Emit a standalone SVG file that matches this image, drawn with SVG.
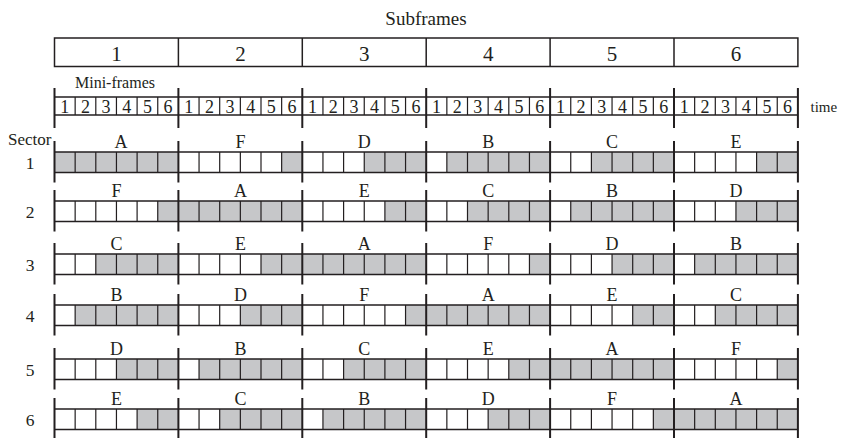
<svg xmlns="http://www.w3.org/2000/svg" xmlns:xlink="http://www.w3.org/1999/xlink" width="841" height="438" viewBox="0 0 841 438">
<style>
text{font-family:"Liberation Serif","Times New Roman",serif;fill:#231f20}
.sf{font-size:21px;text-anchor:middle}
.mf{font-size:18px;text-anchor:middle}
.lt{font-size:18px;text-anchor:middle}
.sn{font-size:17.5px;text-anchor:middle}
.hl{stroke:#231f20;stroke-width:1.5;fill:none}
.tk{stroke:#231f20;stroke-width:2;fill:none}
.dv{stroke:#231f20;stroke-width:1.2;fill:none}
.g{fill:#c6c7c9}
</style>
<defs>
<path id="div" class="dv" d="M20.65 0V20.5M41.3 0V20.5M61.95 0V20.5M82.6 0V20.5M103.25 0V20.5"/>
<path id="divm" class="dv" d="M20.65 0V18M41.3 0V18M61.95 0V18M82.6 0V18M103.25 0V18"/>
<path id="ticks" class="tk" d="M54.5 -11V30.5M178.4 -11V30.5M302.3 -11V30.5M426.2 -11V30.5M550.1 -11V30.5M674 -11V30.5M797.9 -11V30.5"/>
<path id="rowlines" class="hl" d="M54.5 0H797.9M54.5 20.5H797.9"/>
</defs>

<g id="subframes">
<text x="426" y="24.5" style="font-size:19px;text-anchor:middle">Subframes</text>
<rect x="54.5" y="38" width="743.4" height="28.5" class="hl"/>
<path class="hl" d="M178.4 38V66.5M302.3 38V66.5M426.2 38V66.5M550.1 38V66.5M674 38V66.5"/>
<text class="sf" x="116.5" y="61">1</text>
<text class="sf" x="240.4" y="61">2</text>
<text class="sf" x="364.3" y="61">3</text>
<text class="sf" x="488.2" y="61">4</text>
<text class="sf" x="612.1" y="61">5</text>
<text class="sf" x="736" y="61">6</text>
</g>

<g id="miniframes">
<text x="115" y="88" style="font-size:16px;text-anchor:middle">Mini-frames</text>
<path class="hl" d="M54.5 97H797.9M54.5 115H797.9"/>
<path class="tk" d="M54.5 88V128M178.4 88V128M302.3 88V128M426.2 88V128M550.1 88V128M674 88V128M797.9 88V128"/>
<g transform="translate(0,97)">
<use xlink:href="#divm" x="54.5"/><use xlink:href="#divm" x="178.4"/><use xlink:href="#divm" x="302.3"/><use xlink:href="#divm" x="426.2"/><use xlink:href="#divm" x="550.1"/><use xlink:href="#divm" x="674"/>
</g>
<text class="mf" x="64.8 85.5 106.1 126.8 147.4 168.1" y="113">123456</text>
<text class="mf" x="188.7 209.4 230 250.7 271.3 292" y="113">123456</text>
<text class="mf" x="312.6 333.3 353.9 374.6 395.2 415.9" y="113">123456</text>
<text class="mf" x="436.5 457.2 477.8 498.5 519.1 539.8" y="113">123456</text>
<text class="mf" x="560.4 581.1 601.7 622.4 643 663.7" y="113">123456</text>
<text class="mf" x="684.3 705 725.6 746.3 766.9 787.6" y="113">123456</text>
<text x="810.5" y="111.7" style="font-size:15px">time</text>
</g>

<text x="8" y="145" style="font-size:17px">Sector</text>

<g id="sector1" transform="translate(0,152)">
<rect class="g" x="54.5" y="0" width="123.9" height="20.5"/>
<rect class="g" x="281.65" y="0" width="20.65" height="20.5"/>
<rect class="g" x="364.25" y="0" width="61.95" height="20.5"/>
<rect class="g" x="446.85" y="0" width="103.25" height="20.5"/>
<rect class="g" x="591.4" y="0" width="82.6" height="20.5"/>
<rect class="g" x="756.6" y="0" width="41.3" height="20.5"/>
<use xlink:href="#div" x="54.5"/><use xlink:href="#div" x="178.4"/><use xlink:href="#div" x="302.3"/><use xlink:href="#div" x="426.2"/><use xlink:href="#div" x="550.1"/><use xlink:href="#div" x="674"/>
<use xlink:href="#rowlines"/><use xlink:href="#ticks"/>
<text class="sn" x="30" y="17">1</text>
<text class="lt" x="121" y="-4">A</text><text class="lt" x="240.4" y="-4">F</text><text class="lt" x="364.3" y="-4">D</text><text class="lt" x="488.2" y="-4">B</text><text class="lt" x="612.1" y="-4">C</text><text class="lt" x="736" y="-4">E</text>
</g>

<g id="sector2" transform="translate(0,201)">
<rect class="g" x="157.75" y="0" width="20.65" height="20.5"/>
<rect class="g" x="178.4" y="0" width="123.9" height="20.5"/>
<rect class="g" x="384.9" y="0" width="41.3" height="20.5"/>
<rect class="g" x="467.5" y="0" width="82.6" height="20.5"/>
<rect class="g" x="570.75" y="0" width="103.25" height="20.5"/>
<rect class="g" x="735.95" y="0" width="61.95" height="20.5"/>
<use xlink:href="#div" x="54.5"/><use xlink:href="#div" x="178.4"/><use xlink:href="#div" x="302.3"/><use xlink:href="#div" x="426.2"/><use xlink:href="#div" x="550.1"/><use xlink:href="#div" x="674"/>
<use xlink:href="#rowlines"/><use xlink:href="#ticks"/>
<text class="sn" x="30" y="17">2</text>
<text class="lt" x="116.5" y="-4">F</text><text class="lt" x="240.4" y="-4">A</text><text class="lt" x="364.3" y="-4">E</text><text class="lt" x="488.2" y="-4">C</text><text class="lt" x="612.1" y="-4">B</text><text class="lt" x="736" y="-4">D</text>
</g>

<g id="sector3" transform="translate(0,254)">
<rect class="g" x="95.8" y="0" width="82.6" height="20.5"/>
<rect class="g" x="261" y="0" width="41.3" height="20.5"/>
<rect class="g" x="302.3" y="0" width="123.9" height="20.5"/>
<rect class="g" x="529.45" y="0" width="20.65" height="20.5"/>
<rect class="g" x="612.05" y="0" width="61.95" height="20.5"/>
<rect class="g" x="694.65" y="0" width="103.25" height="20.5"/>
<use xlink:href="#div" x="54.5"/><use xlink:href="#div" x="178.4"/><use xlink:href="#div" x="302.3"/><use xlink:href="#div" x="426.2"/><use xlink:href="#div" x="550.1"/><use xlink:href="#div" x="674"/>
<use xlink:href="#rowlines"/><use xlink:href="#ticks"/>
<text class="sn" x="30" y="17">3</text>
<text class="lt" x="116.5" y="-4">C</text><text class="lt" x="240.4" y="-4">E</text><text class="lt" x="364.3" y="-4">A</text><text class="lt" x="488.2" y="-4">F</text><text class="lt" x="612.1" y="-4">D</text><text class="lt" x="736" y="-4">B</text>
</g>

<g id="sector4" transform="translate(0,305)">
<rect class="g" x="75.15" y="0" width="103.25" height="20.5"/>
<rect class="g" x="240.35" y="0" width="61.95" height="20.5"/>
<rect class="g" x="405.55" y="0" width="20.65" height="20.5"/>
<rect class="g" x="426.2" y="0" width="123.9" height="20.5"/>
<rect class="g" x="632.7" y="0" width="41.3" height="20.5"/>
<rect class="g" x="715.3" y="0" width="82.6" height="20.5"/>
<use xlink:href="#div" x="54.5"/><use xlink:href="#div" x="178.4"/><use xlink:href="#div" x="302.3"/><use xlink:href="#div" x="426.2"/><use xlink:href="#div" x="550.1"/><use xlink:href="#div" x="674"/>
<use xlink:href="#rowlines"/><use xlink:href="#ticks"/>
<text class="sn" x="30" y="17">4</text>
<text class="lt" x="116.5" y="-4">B</text><text class="lt" x="240.4" y="-4">D</text><text class="lt" x="364.3" y="-4">F</text><text class="lt" x="488.2" y="-4">A</text><text class="lt" x="612.1" y="-4">E</text><text class="lt" x="736" y="-4">C</text>
</g>

<g id="sector5" transform="translate(0,359)">
<rect class="g" x="116.45" y="0" width="61.95" height="20.5"/>
<rect class="g" x="199.05" y="0" width="103.25" height="20.5"/>
<rect class="g" x="343.6" y="0" width="82.6" height="20.5"/>
<rect class="g" x="508.8" y="0" width="41.3" height="20.5"/>
<rect class="g" x="550.1" y="0" width="123.9" height="20.5"/>
<rect class="g" x="777.25" y="0" width="20.65" height="20.5"/>
<use xlink:href="#div" x="54.5"/><use xlink:href="#div" x="178.4"/><use xlink:href="#div" x="302.3"/><use xlink:href="#div" x="426.2"/><use xlink:href="#div" x="550.1"/><use xlink:href="#div" x="674"/>
<use xlink:href="#rowlines"/><use xlink:href="#ticks"/>
<text class="sn" x="30" y="17">5</text>
<text class="lt" x="116.5" y="-4">D</text><text class="lt" x="240.4" y="-4">B</text><text class="lt" x="364.3" y="-4">C</text><text class="lt" x="488.2" y="-4">E</text><text class="lt" x="612.1" y="-4">A</text><text class="lt" x="736" y="-4">F</text>
</g>

<g id="sector6" transform="translate(0,409)">
<rect class="g" x="137.1" y="0" width="41.3" height="20.5"/>
<rect class="g" x="219.7" y="0" width="82.6" height="20.5"/>
<rect class="g" x="322.95" y="0" width="103.25" height="20.5"/>
<rect class="g" x="488.15" y="0" width="61.95" height="20.5"/>
<rect class="g" x="653.35" y="0" width="20.65" height="20.5"/>
<rect class="g" x="674" y="0" width="123.9" height="20.5"/>
<use xlink:href="#div" x="54.5"/><use xlink:href="#div" x="178.4"/><use xlink:href="#div" x="302.3"/><use xlink:href="#div" x="426.2"/><use xlink:href="#div" x="550.1"/><use xlink:href="#div" x="674"/>
<use xlink:href="#rowlines"/><use xlink:href="#ticks"/>
<text class="sn" x="30" y="17">6</text>
<text class="lt" x="116.5" y="-4">E</text><text class="lt" x="240.4" y="-4">C</text><text class="lt" x="364.3" y="-4">B</text><text class="lt" x="488.2" y="-4">D</text><text class="lt" x="612.1" y="-4">F</text><text class="lt" x="736" y="-4">A</text>
</g>
</svg>
